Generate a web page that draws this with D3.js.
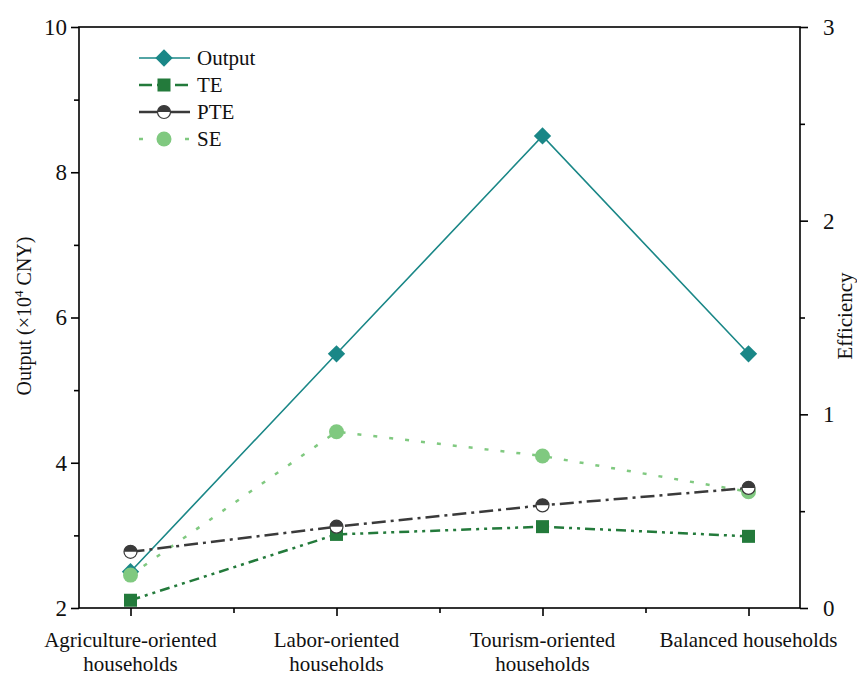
<!DOCTYPE html>
<html>
<head>
<meta charset="utf-8">
<script src="https://cdn.jsdelivr.net/npm/d3@7"></script>
<style>
body { margin: 0; background: #fff; }
svg text, svg tspan { font-family: "Liberation Serif", "Times New Roman", serif !important; }
</style>
</head>
<body>
<script>
// chart data
var categories = ['Agriculture-oriented households', 'Labor-oriented households', 'Tourism-oriented households', 'Balanced households'];
var catLines = [['Agriculture-oriented', 'households'], ['Labor-oriented', 'households'], ['Tourism-oriented', 'households'], ['Balanced households']];
var outputVals = [2.5, 5.5, 8.5, 5.5];
var teVals = [0.04, 0.38, 0.42, 0.37];
var pteVals = [0.29, 0.42, 0.53, 0.62];
var seVals = [0.17, 0.91, 0.785, 0.60];
var leftTicks = [2, 4, 6, 8, 10];
var rightTicks = [0, 1, 2, 3];

var FONT = 'Liberation Serif';
var W = 857, H = 675;
var margin = { left: 79, right: 57, top: 27, bottom: 67 };
var pw = W - margin.left - margin.right, ph = H - margin.top - margin.bottom;

var svg = d3.select('body').append('svg').attr('width', W).attr('height', H)
	.attr('font-family', FONT);
var g = svg.append('g').attr('transform', 'translate(' + margin.left + ',' + margin.top + ')');

var x = d3.scaleLinear().domain([0.75, 4.25]).range([0, pw]);
var yL = d3.scaleLinear().domain([2, 10]).range([ph, 0]);
var yR = d3.scaleLinear().domain([0, 3]).range([ph, 0]);

// frame
g.append('rect').attr('width', pw).attr('height', ph)
	.attr('fill', 'none').attr('stroke', '#000').attr('stroke-width', 1.6);

// left axis
var axL = g.append('g').call(d3.axisLeft(yL).tickValues(leftTicks).tickSize(8).tickPadding(4).tickFormat(d3.format('d')));
axL.append('g').call(d3.axisLeft(yL).tickValues([3, 5, 7, 9]).tickSize(5).tickFormat(''));
// right axis
var axR = g.append('g').attr('transform', 'translate(' + pw + ',0)')
	.call(d3.axisRight(yR).tickValues(rightTicks).tickSize(8).tickPadding(15).tickFormat(d3.format('d')));
axR.append('g').call(d3.axisRight(yR).tickValues([0.5, 1.5, 2.5]).tickSize(5).tickFormat(''));
// bottom axis
var axB = g.append('g').attr('transform', 'translate(0,' + ph + ')')
	.call(d3.axisBottom(x).tickValues([1, 2, 3, 4]).tickSize(8).tickFormat(''));
axB.append('g').call(d3.axisBottom(x).tickValues([1.5, 2.5, 3.5]).tickSize(5).tickFormat(''));

[axL, axR, axB].forEach(function(a) {
	a.attr('font-family', FONT);
	a.selectAll('.domain').remove();
	a.selectAll('line').attr('stroke', '#000').attr('stroke-width', 1.6);
	a.selectAll('text').attr('font-size', 23).attr('fill', '#111');
});

// category labels
catLines.forEach(function(lines, i) {
	var t = g.append('text').attr('x', x(i + 1)).attr('y', ph + 39)
		.attr('text-anchor', 'middle').attr('font-size', 21).attr('fill', '#111');
	lines.forEach(function(l, j) {
		t.append('tspan').attr('x', x(i + 1)).attr('dy', j == 0 ? 0 : 24).text(l);
	});
});

// axis titles
var tl = svg.append('text').attr('transform', 'translate(31,316) rotate(-90)')
	.attr('text-anchor', 'middle').attr('font-size', 20).attr('fill', '#111');
tl.append('tspan').text('Output (×10');
tl.append('tspan').attr('dy', -8).attr('font-size', 13).text('4');
tl.append('tspan').attr('dy', 8).text(' CNY)');
svg.append('text').attr('transform', 'translate(852,316) rotate(-90)')
	.attr('text-anchor', 'middle').attr('font-size', 21).attr('fill', '#111')
	.text('Efficiency');

var cOut = '#1a8787', cTE = '#237a3b', cPTE = '#3a3a3a', cSE = '#80c980';

var series = [
	{ name: 'Output', vals: outputVals, y: yL, color: cOut, dash: null, marker: 'diamond', legDash: null },
	{ name: 'SE', vals: seVals, y: yR, color: cSE, dash: '4,12', marker: 'circle', legDash: '4,19' },
	{ name: 'TE', vals: teVals, y: yR, color: cTE, dash: '10,5,3,5,3,5', marker: 'square', legDash: '13,5' },
	{ name: 'PTE', vals: pteVals, y: yR, color: cPTE, dash: '14,5,3,5', marker: 'half', legDash: null }
];

function drawMarker(sel, s, cx, cy) {
	if (s.marker == 'diamond') {
		sel.append('path').attr('d', d3.symbol().type(d3.symbolSquare).size(150)())
			.attr('transform', 'translate(' + cx + ',' + cy + ') rotate(45)').attr('fill', s.color);
	} else if (s.marker == 'square') {
		sel.append('rect').attr('x', cx - 6.5).attr('y', cy - 6.5).attr('width', 13).attr('height', 13).attr('fill', s.color);
	} else if (s.marker == 'circle') {
		sel.append('circle').attr('cx', cx).attr('cy', cy).attr('r', 7.5).attr('fill', s.color);
	} else {
		sel.append('circle').attr('cx', cx).attr('cy', cy).attr('r', 6.5)
			.attr('fill', '#fff').attr('stroke', s.color).attr('stroke-width', 1.2);
		sel.append('path').attr('d', 'M' + (cx - 6.5) + ',' + cy + ' A6.5,6.5 0 0 1 ' + (cx + 6.5) + ',' + cy + ' Z')
			.attr('fill', s.color);
	}
}

series.forEach(function(s) {
	var line = d3.line().x(function(d, i) { return x(i + 1); }).y(function(d) { return s.y(d); });
	g.append('path').datum(s.vals).attr('d', line)
		.attr('fill', 'none').attr('stroke', s.color).attr('stroke-width', s.name == 'Output' ? 1.6 : 2.5)
		.attr('stroke-dasharray', s.dash);
});
series.forEach(function(s) {
	s.vals.forEach(function(v, i) { drawMarker(g, s, x(i + 1), s.y(v)); });
});

// legend
var legOrder = ['Output', 'TE', 'PTE', 'SE'];
legOrder.forEach(function(n, i) {
	var s = series.filter(function(d) { return d.name == n; })[0];
	var ly = 58 + i * 27;
	svg.append('line').attr('x1', 139).attr('x2', 190).attr('y1', ly).attr('y2', ly)
		.attr('stroke', s.color).attr('stroke-width', s.name == 'Output' ? 1.6 : 2.5)
		.attr('stroke-dasharray', s.legDash);
	drawMarker(svg, s, 164, ly);
	svg.append('text').attr('x', 197).attr('y', ly + 7).attr('font-size', 21)
		.attr('fill', '#111').text(n);
});

svg.selectAll('text').attr('font-family', FONT);
</script>
</body>
</html>
